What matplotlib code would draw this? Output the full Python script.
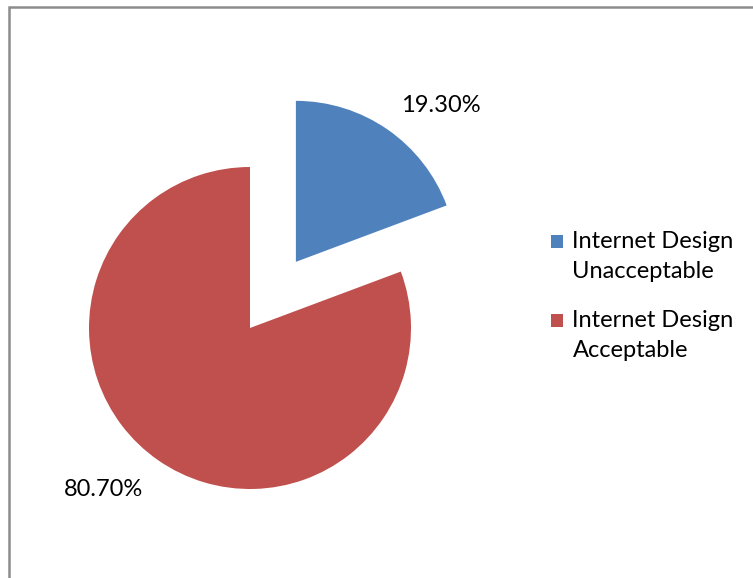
import matplotlib.pyplot as plt
from matplotlib.patches import Rectangle
from matplotlib.legend_handler import HandlerPatch

# share of respondents
labels = ["Internet Design\nUnacceptable", "Internet Design\nAcceptable"]
shares = [19.30, 80.70]
pct_text = ["19.30%", "80.70%"]
colors = ["#4F81BD", "#C0504D"]
explode = [0.5, 0.0]

W, H = 753, 578
FS = 17
fig = plt.figure(figsize=(W / 100, H / 100), dpi=100)
plt.rcParams["font.family"] = ["Lato", "DejaVu Sans"]

# outer chart frame (only top and left edges fall inside the image)
fig.patches.append(Rectangle((8.5 / W, -0.1), 1.2, (H - 7) / H + 0.1,
                             transform=fig.transFigure, fill=False,
                             edgecolor="#8c8c8c", linewidth=1.8))

# axes placed so that radius 1 equals ~161 px, centred on the red pie
cx, cy, r_px, L = 250, 328, 161, 1.6
S = 2 * L * r_px
ax = fig.add_axes([(cx - S / 2) / W, (H - cy - S / 2) / H, S / W, S / H])
wedges, _ = ax.pie(shares, colors=colors, explode=explode, startangle=90,
                   counterclock=False, radius=1.0,
                   wedgeprops=dict(linewidth=0))
ax.set_xlim(-L, L)
ax.set_ylim(-L, L)
ax.set_aspect("equal")
ax.axis("off")

# percentage labels
ax.text(1.186, 1.379, pct_text[0], fontsize=FS, ha="center", va="center")
ax.text(-0.907, -1.006, pct_text[1], fontsize=FS, ha="center", va="center")


# legend squares sit beside the first line of each two-line label
def top_square(legend, orig_handle, xdescent, ydescent, width, height, fontsize):
    return Rectangle((-xdescent, -ydescent + 0.64 * fontsize), width, height)


leg = fig.legend(wedges, labels, loc="center left",
                 bbox_to_anchor=(530 / W, 1 - 296 / H), frameon=False,
                 fontsize=FS, handlelength=0.5, handleheight=0.5,
                 handletextpad=0.4, labelspacing=1.2,
                 handler_map={w: HandlerPatch(patch_func=top_square) for w in wedges})
for t in leg.get_texts():
    t.set_linespacing(1.5)

fig.savefig("out.png", dpi=100, facecolor="white")
